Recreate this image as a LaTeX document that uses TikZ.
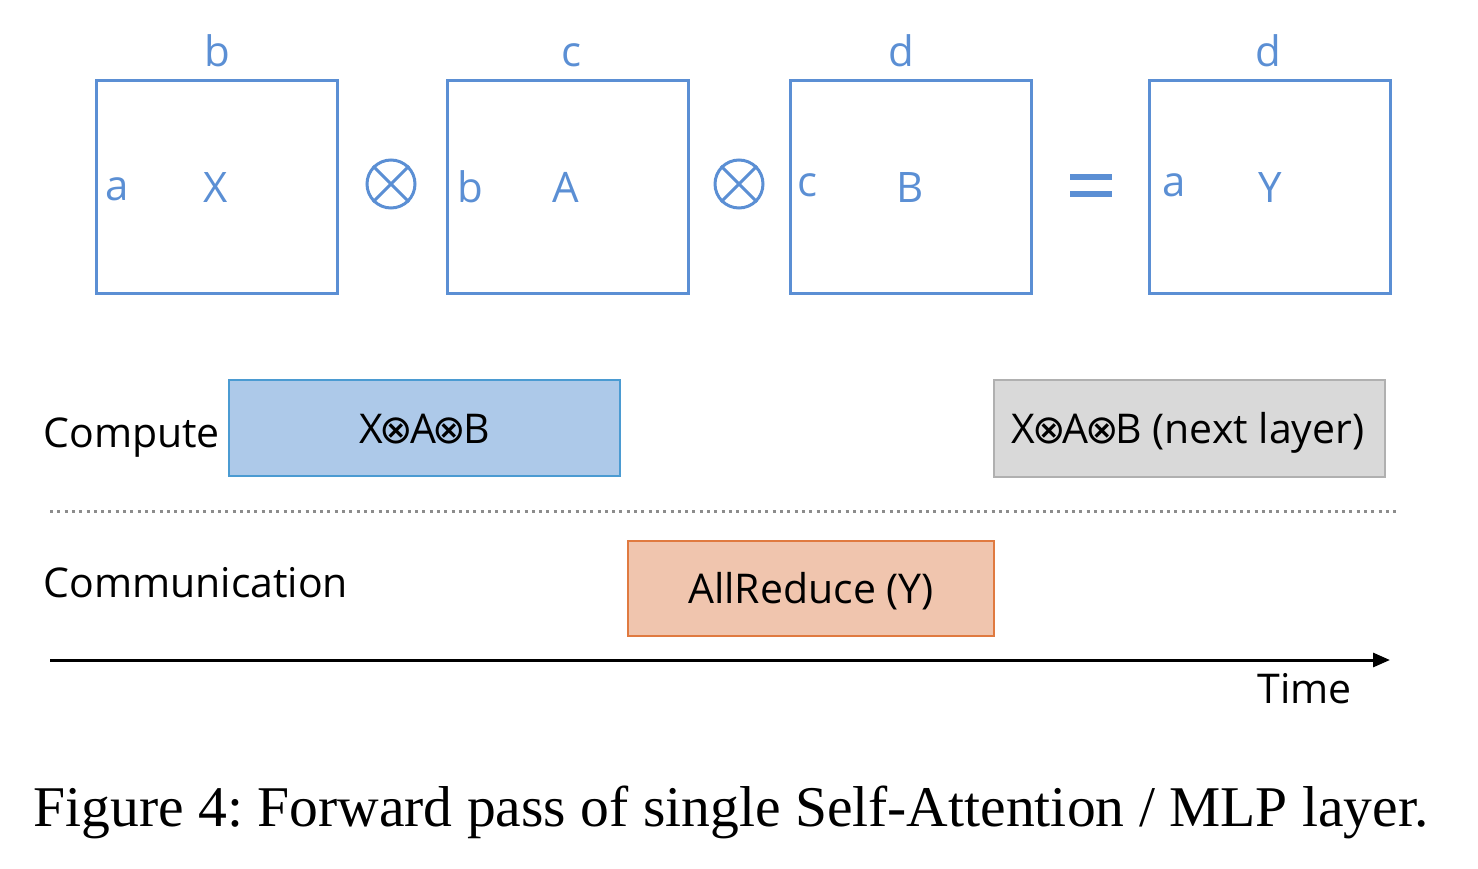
\documentclass[tikz,border=0pt]{standalone}
\usepackage{fontspec}
\setmainfont{Liberation Serif}
\newfontfamily\uisans{Open Sans}
\newfontfamily\symfont{DejaVu Sans}
\usetikzlibrary{arrows.meta}
\definecolor{mblue}{RGB}{91,143,212}
\definecolor{cfill}{RGB}{173,201,233}
\definecolor{cdraw}{RGB}{75,155,210}
\definecolor{gfill}{RGB}{217,217,217}
\definecolor{gdraw}{RGB}{176,176,176}
\definecolor{ofill}{RGB}{240,197,174}
\definecolor{odraw}{RGB}{224,122,64}
\definecolor{dotgrey}{RGB}{140,140,140}
\newcommand{\ot}{{\symfont\fontsize{20pt}{20pt}\selectfont\kern-1.6pt⊗\kern-1.6pt}}
\tikzset{
  matbox/.style={draw=mblue, line width=1.5pt, minimum width=120.5pt, minimum height=106.5pt, inner sep=0pt},
  mtext/.style={text=mblue, font=\uisans\fontsize{21pt}{21pt}\selectfont, anchor=base, inner sep=0pt},
  lbl/.style={text=black, font=\uisans\fontsize{20.5pt}{20.5pt}\selectfont, anchor=base west, inner sep=0pt},
  bartext/.style={font=\uisans\fontsize{20.5pt}{20.5pt}\selectfont, text=black, anchor=base, inner sep=0pt},
  opcircle/.style={draw=mblue, circle, line width=1.5pt, minimum size=24pt, inner sep=0pt},
  eqbar/.style={fill=mblue, minimum width=21pt, minimum height=3pt, inner sep=0pt},
  compbox/.style={fill=cfill, draw=cdraw, line width=1pt, minimum width=195.5pt, minimum height=48pt, inner sep=0pt},
  nextbox/.style={fill=gfill, draw=gdraw, line width=1pt, minimum width=195.5pt, minimum height=48.5pt, inner sep=0pt},
  commbox/.style={fill=ofill, draw=odraw, line width=1pt, minimum width=183pt, minimum height=47.5pt, inner sep=0pt}
}
\begin{document}
\frenchspacing
\begin{tikzpicture}[x=0.5pt, y=-0.5pt]
\useasboundingbox (0,0) rectangle (1478,868);
% matrices
\node[matbox] (mx) at (216.5,186.5) {};
\node[matbox] (ma) at (567.5,186.5) {};
\node[matbox] (mb) at (910.5,186.5) {};
\node[matbox] (my) at (1270,186.5) {};
% top labels
\node[mtext] (tb) at (217,66) {b};
\node[mtext] (tc) at (571,66) {c};
\node[mtext] (td) at (901,66) {d};
\node[mtext] (td2) at (1268,66) {d};
% inner labels
\node[mtext, anchor=base west] (ia) at (105,200) {a};
\node[mtext] (ix) at (216,202) {X};
\node[mtext, anchor=base west] (ib) at (457,202) {b};
\node[mtext] (iA) at (566,202) {A};
\node[mtext, anchor=base west] (ic) at (797,196) {c};
\node[mtext] (iB) at (910,202) {B};
\node[mtext, anchor=base west] (ia2) at (1162,196) {a};
\node[mtext] (iY) at (1270,202) {Y};
% operators
\node[opcircle] (o1) at (391,184) {};
\draw[mblue, line width=1.5pt] (o1.45) -- (o1.225) (o1.135) -- (o1.315);
\node[opcircle] (o2) at (739,184) {};
\draw[mblue, line width=1.5pt] (o2.45) -- (o2.225) (o2.135) -- (o2.315);
\node[eqbar] (e1) at (1091,177) {};
\node[eqbar] (e2) at (1091,194) {};
% timeline
\node[lbl] (lc) at (43,447) {Compute};
\node[compbox] (cb) at (424.5,428) {};
\node[bartext] (cbt) at (424.5,443) {X\ot A\ot B};
\node[nextbox] (nb) at (1189.5,428.5) {};
\node[bartext] (nbt) at (1188,443) {X\ot A\ot B (next layer)};
\coordinate (dl) at (50,511);
\coordinate (dr) at (1397,511);
\draw[dotgrey, line width=1.5pt, dash pattern=on 1.5pt off 2.15pt] (dl) -- (dr);
\node[lbl] (lm) at (43,597) {Communication};
\node[commbox] (ab) at (811,588.5) {};
\node[bartext] (abt) at (811,603) {AllReduce (Y)};
\coordinate (al) at (50,660);
\coordinate (ar) at (1390,660);
\draw[line width=1.5pt, -{Triangle[length=8.5pt,width=7pt]}] (al) -- (ar);
\node[lbl] (lt) at (1257,703) {Time};
% caption
\node[anchor=base, inner sep=0pt, font=\fontsize{28.8pt}{28.8pt}\selectfont] (cap) at (731,826) {Figure 4: Forward pass of single Self-Attention / MLP layer.};
\end{tikzpicture}
\end{document}
